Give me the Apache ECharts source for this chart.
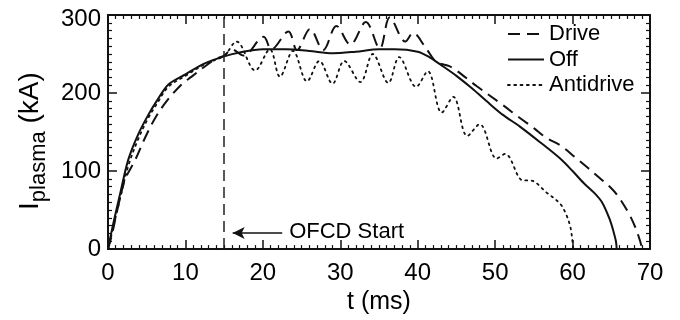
<!DOCTYPE html>
<html><head><meta charset="utf-8">
<script src="https://cdn.jsdelivr.net/npm/echarts@6/dist/echarts.min.js"></script>
<style>html,body{margin:0;padding:0;background:#fff}#c{width:680px;height:320px}</style>
</head><body><div id="c"></div>
<script>
// ---- data (t in ms, I in kA) ----
const offT = [0, 0.3, 0.8, 1.5, 2.6, 3.9, 5.2, 6.3, 7.8, 10, 12.5, 15, 17, 20, 23, 26, 29, 32, 35, 37, 40, 41.5, 43, 45, 47, 49.3, 51, 53.2, 55.8, 58.4, 60, 61.4, 62.8, 63.8, 64.8, 65.3, 65.6, 65.7];
const offI = [0, 15, 38, 68, 114, 147, 172, 190, 211, 224, 238, 247, 252, 256, 256, 254, 251, 253, 256, 256, 253, 246, 236, 222, 206, 186, 172, 157, 137, 116, 100, 85, 72, 60, 38, 22, 10, 0];

const driveT = [0, 0.5, 1.2, 2.2, 3.5, 4.8, 6.1, 7.6, 9.5, 10.8, 12.5, 14, 15, 16, 17.5, 20.1, 21.1, 23.3, 24.4, 26.1, 27.8, 29.5, 31.3, 33.3, 35.1, 36.4, 38.4, 39.4, 40.9, 42.4, 44.2, 47.6, 50.8, 53.2, 55, 56.7, 58.4, 60.3, 62, 63.5, 65, 66, 67.3, 68.1, 68.7, 69];
const driveI = [0, 18, 50, 89, 114, 143, 168, 190, 211, 221, 234, 244, 248, 256, 248, 272, 256, 279, 255, 282, 255, 286, 262, 291, 257, 297, 266, 277, 260, 240, 234, 209, 186, 168, 155, 142, 133, 118, 104, 91, 78, 66, 45, 28, 11, 0];

const antiT = [0, 0.3, 0.8, 1.5, 2.6, 3.9, 5.2, 6.3, 7.8, 10, 12.5, 15, 16.6, 19, 20.9, 22.2, 23.9, 25.7, 27.3, 29.0, 30.5, 32.6, 34.2, 36.2, 37.6, 39.8, 41.3, 43.1, 44.6, 46.4, 48, 50.2, 51.3, 53.6, 54.5, 56.7, 58.4, 59.1, 59.7, 60, 60.1];
const antiI = [0, 12, 33, 62, 106, 141, 168, 186, 208, 222, 237, 248, 266, 229, 256, 221, 254, 215, 241, 212, 241, 214, 250, 213, 246, 208, 228, 175, 195, 145, 160, 116, 122, 88, 88, 72, 58, 46, 29, 9, 0];

const seriesNames = ['Drive', 'Off', 'Antidrive'];
const xTickLabels = [0, 10, 20, 30, 40, 50, 60, 70];
const yTickLabels = [0, 100, 200, 300];
const ofcdStart = 15;           // ms, vertical marker
const arrowFrom = [22.5, 20.5]; // annotation arrow (data coords)
const arrowTo = [16.1, 20.5];
const noteText = 'OFCD Start';
const notePos = [23.4, 22];

const FONT = "'Liberation Sans', Arial, Helvetica, sans-serif";
const INK = '#111';
const pairs = (t, v) => t.map((x, i) => [x, v[i]]);

const xMin = xTickLabels[0], xMax = xTickLabels[xTickLabels.length - 1];
const yMin = yTickLabels[0], yMax = yTickLabels[yTickLabels.length - 1];

function axisCommon(extra) {
  return Object.assign({
    type: 'value',
    axisLine: { show: true, onZero: false, lineStyle: { color: INK, width: 2 } },
    axisTick: { show: true, inside: true, length: 9, lineStyle: { color: INK, width: 1.5 } },
    minorTick: { show: true, splitNumber: 10, length: 4, lineStyle: { color: INK, width: 1.2 } },
    splitLine: { show: false }
  }, extra);
}

const chart = echarts.init(document.getElementById('c'), null, { renderer: 'canvas' });
chart.setOption({
  animation: false,
  backgroundColor: '#fff',
  grid: { left: 108, right: 30, top: 15, bottom: 63 },
  xAxis: [
    axisCommon({
      position: 'bottom', min: xMin, max: xMax, interval: 10,
      name: 't (ms)', nameLocation: 'middle', nameGap: 32,
      nameTextStyle: { fontFamily: FONT, fontSize: 25, color: '#000' },
      axisLabel: { fontFamily: FONT, fontSize: 24, color: '#000', margin: 12 }
    }),
    axisCommon({
      position: 'top', min: xMin, max: xMax, interval: 10,
      axisLabel: { show: false }
    })
  ],
  yAxis: [
    axisCommon({
      position: 'left', min: yMin, max: yMax, interval: 100,
      name: '{m|I}{s|plasma}{m| (kA)}', nameLocation: 'middle', nameGap: 58, nameRotate: 90,
      nameTextStyle: {
        fontFamily: FONT, color: '#000', padding: [0, 18, 0, 0],
        rich: {
          m: { fontFamily: FONT, fontSize: 28, color: '#000', padding: [0, 0, 6, 0] },
          s: { fontFamily: FONT, fontSize: 22, color: '#000', verticalAlign: 'bottom' }
        }
      },
      axisLabel: {
        fontFamily: FONT, fontSize: 24, color: '#000', margin: 7,
        formatter: v => v === yMax ? '{hi|' + v + '}' : (v === yMin ? '{lo|' + v + '}' : '{n|' + v + '}'),
        rich: {
          n: { fontFamily: FONT, fontSize: 24, color: '#000' },
          hi: { fontFamily: FONT, fontSize: 24, color: '#000', padding: [8, 0, 0, 0] },
          lo: { fontFamily: FONT, fontSize: 24, color: '#000', lineHeight: 14 }
        }
      }
    }),
    axisCommon({
      position: 'right', min: yMin, max: yMax, interval: 100,
      axisLabel: { show: false }
    })
  ],
  legend: {
    orient: 'vertical', left: 502, top: 18, itemWidth: 36, itemHeight: 14, itemGap: 3.5,
    itemStyle: { opacity: 0 },
    textStyle: { fontFamily: FONT, fontSize: 22, color: '#000', lineHeight: 20 },
    data: seriesNames
  },
  series: [
    {
      name: seriesNames[0], type: 'line', data: pairs(driveT, driveI), showSymbol: false, symbol: 'none',
      smooth: 0.35, lineStyle: { color: INK, width: 2, type: [12, 7] }, itemStyle: { color: INK },
      markLine: {
        silent: true, symbol: 'none', animation: false,
        lineStyle: { color: '#222', width: 1.5, type: [11, 6] }, label: { show: false },
        data: [[{ coord: [ofcdStart, yMin] }, { coord: [ofcdStart, yMax] }]]
      }
    },
    {
      name: seriesNames[1], type: 'line', data: pairs(offT, offI), showSymbol: false, symbol: 'none',
      smooth: 0.3, lineStyle: { color: INK, width: 2 }, itemStyle: { color: INK },
      markLine: {
        silent: true, symbol: ['none', 'arrow'], symbolSize: [9, 12], animation: false,
        lineStyle: { color: INK, width: 1.5, type: 'solid' }, label: { show: false },
        data: [[{ coord: arrowFrom }, { coord: arrowTo }]]
      },
      markPoint: {
        silent: true, symbol: 'circle', symbolSize: 0,
        label: { show: true, position: 'right', distance: 0, formatter: noteText, fontFamily: FONT, fontSize: 22, color: '#000' },
        data: [{ coord: notePos }]
      }
    },
    {
      name: seriesNames[2], type: 'line', data: pairs(antiT, antiI), showSymbol: false, symbol: 'none',
      smooth: 0.35, lineStyle: { color: INK, width: 1.8, type: [1.8, 4.5], cap: 'round' }, itemStyle: { color: INK }
    }
  ]
});
</script>
</body></html>
